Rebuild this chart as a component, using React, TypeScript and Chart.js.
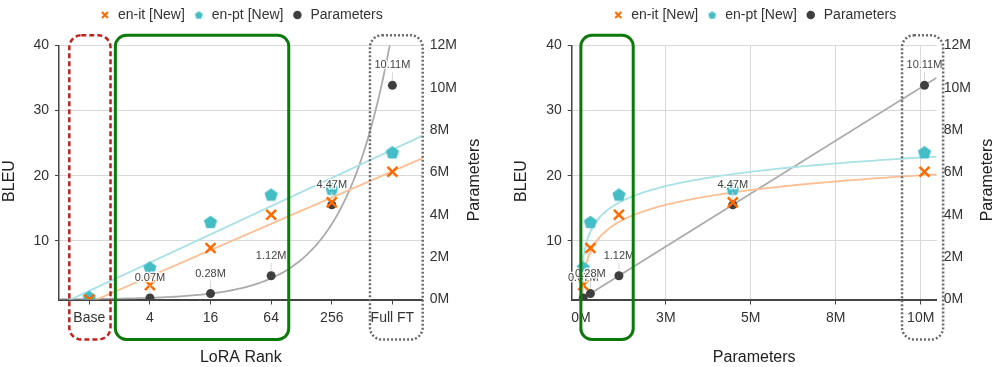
import React, { useEffect, useRef } from "react";
import { Chart, registerables } from "chart.js";
Chart.register(...registerables);

// ---------------- data ----------------
const rankLabels = ["Base", "4", "16", "64", "256", "Full FT"];
const enItBleu = [1.0, 3.2, 8.9, 14.0, 15.9, 20.6];
const enPtBleu = [1.4, 5.9, 12.9, 17.1, 18.0, 23.6];
const paramsM: (number | null)[] = [null, 0.07, 0.28, 1.12, 4.47, 10.11];
const paramTexts = ["", "0.07M", "0.28M", "1.12M", "4.47M", "10.11M"];
const bleuTicks = [10, 20, 30, 40];
const paramTicks = [0, 2, 4, 6, 8, 10, 12];
const paramAxisTicks = [0, 2.5, 5, 7.5, 10];

// ---------------- styles ----------------
const FONT = "'Liberation Sans', Arial, Helvetica, sans-serif";
const ORANGE = "#ff6a00";
const TEAL = "#45bdc7";
const DARK = "#3f3f3f";
const ORANGE_LINE = "#ffbf94";
const TEAL_LINE = "#a8e1e6";
const GRAY_LINE = "#ababab";
const TXT = "#333";

function pentagon(r: number, color: string) {
  const c = document.createElement("canvas");
  const s = Math.ceil(2 * r + 2);
  c.width = s;
  c.height = s;
  const ctx = c.getContext("2d")!;
  ctx.fillStyle = color;
  ctx.beginPath();
  for (let k = 0; k < 5; k++) {
    const ang = -Math.PI / 2 + (k * 2 * Math.PI) / 5;
    const px = s / 2 + r * Math.cos(ang);
    const py = s / 2 + r * Math.sin(ang) + r * 0.095;
    if (k) ctx.lineTo(px, py);
    else ctx.moveTo(px, py);
  }
  ctx.closePath();
  ctx.fill();
  return c;
}

function linFit(xs: number[], ys: number[]) {
  const n = xs.length;
  const mx = xs.reduce((a, b) => a + b, 0) / n;
  const my = ys.reduce((a, b) => a + b, 0) / n;
  let sxy = 0,
    sxx = 0;
  for (let i = 0; i < n; i++) {
    sxy += (xs[i] - mx) * (ys[i] - my);
    sxx += (xs[i] - mx) * (xs[i] - mx);
  }
  const b = sxy / sxx;
  return { a: my - b * mx, b };
}

type Box = { x0: number; x1: number; color: string; dash: number[]; width: number; radius: number };
type Titles = { left: [number, number]; right: [number, number]; bottom: string; leftText: string; rightText: string };

function makePlugins(boxes: Box[], titles: Titles) {
  const legendPad = {
    id: "legendPad",
    beforeLayout(chart: any) {
      const lg = chart.legend;
      if (lg && !lg._padPatched) {
        const orig = lg.fit;
        lg.fit = function () {
          orig.call(this);
          this.height += 13.3;
        };
        lg._padPatched = true;
      }
    },
  };
  const labelPlugin = {
    id: "paramLabels",
    afterDatasetsDraw(chart: any) {
      const ctx = chart.ctx;
      chart.data.datasets.forEach((ds: any, di: number) => {
        if (ds.label !== "Parameters") return;
        const meta = chart.getDatasetMeta(di);
        meta.data.forEach((el: any, j: number) => {
          const t = ds.data[j].t;
          if (!t) return;
          const x = el.x,
            y = el.y;
          ctx.save();
          ctx.strokeStyle = "#d6d6d6";
          ctx.lineWidth = 1;
          ctx.beginPath();
          ctx.moveTo(x, y - 13);
          ctx.lineTo(x, y - 5);
          ctx.stroke();
          ctx.font = `11px ${FONT}`;
          ctx.textAlign = "center";
          ctx.textBaseline = "middle";
          ctx.lineWidth = 3;
          ctx.strokeStyle = "rgba(255,255,255,0.85)";
          ctx.lineJoin = "round";
          ctx.strokeText(t, x, y - 20);
          ctx.fillStyle = "#444";
          ctx.fillText(t, x, y - 20);
          ctx.restore();
        });
      });
    },
  };
  const boxPlugin = {
    id: "boxes",
    afterDraw(chart: any) {
      const ctx = chart.ctx;
      const xs = chart.scales.x;
      const area = chart.chartArea;
      const top = area.top - 10;
      const bottom = area.bottom + 40;
      boxes.forEach((b) => {
        const x0 = xs.getPixelForValue(b.x0);
        const x1 = xs.getPixelForValue(b.x1);
        ctx.save();
        ctx.strokeStyle = b.color;
        ctx.lineWidth = b.width;
        ctx.setLineDash(b.dash);
        ctx.beginPath();
        (ctx as any).roundRect(x0, top, x1 - x0, bottom - top, b.radius);
        ctx.stroke();
        ctx.restore();
      });
      // axis titles
      ctx.save();
      ctx.fillStyle = "#222";
      ctx.font = `16px ${FONT}`;
      ctx.textAlign = "center";
      ctx.textBaseline = "middle";
      ctx.save();
      ctx.translate(titles.left[0], titles.left[1]);
      ctx.rotate(-Math.PI / 2);
      ctx.fillText(titles.leftText, 0, 0);
      ctx.restore();
      ctx.save();
      ctx.translate(titles.right[0], titles.right[1]);
      ctx.rotate(-Math.PI / 2);
      ctx.fillText(titles.rightText, 0, 0);
      ctx.restore();
      ctx.fillText(titles.bottom, (area.left + area.right) / 2, 358);
      ctx.restore();
    },
  };
  return [legendPad, labelPlugin, boxPlugin];
}

function legendOptions(smallPent: HTMLCanvasElement) {
  return {
    position: "top" as const,
    fullSize: false,
    labels: {
      usePointStyle: true,
      boxWidth: 12,
      boxHeight: 6,
      padding: 8,
      color: TXT,
      font: { size: 14, family: FONT },
      filter: (item: any) => !String(item.text).startsWith("_"),
      generateLabels: (chart: any) => {
        const items = (Chart.defaults as any).plugins.legend.labels.generateLabels(chart);
        return items.map((it: any) => {
          if (it.text === "en-pt [New]") it.pointStyle = smallPent;
          if (it.text === "en-it [New]") it.lineWidth = 2;
          if (it.text === "Parameters") it.lineWidth = 0;
          return it;
        });
      },
    },
  };
}

function markerDatasets(xOf: (i: number) => number | null, idx: number[]) {
  const bigPent = pentagon(7, TEAL);
  return [
    {
      label: "en-it [New]",
      data: idx.map((i) => ({ x: xOf(i), y: enItBleu[i] })),
      pointStyle: "crossRot",
      radius: 7,
      borderColor: ORANGE,
      backgroundColor: ORANGE,
      borderWidth: 2.5,
      yAxisID: "y",
      order: 1,
    },
    {
      label: "en-pt [New]",
      data: idx.map((i) => ({ x: xOf(i), y: enPtBleu[i] })),
      pointStyle: bigPent,
      radius: 7,
      borderColor: TEAL,
      backgroundColor: TEAL,
      yAxisID: "y",
      order: 2,
    },
    {
      label: "Parameters",
      data: idx
        .filter((i) => paramsM[i] !== null)
        .map((i) => ({ x: xOf(i), y: paramsM[i], t: paramTexts[i] })),
      pointStyle: "circle",
      radius: 4.5,
      borderWidth: 0,
      borderColor: DARK,
      backgroundColor: DARK,
      yAxisID: "y1",
      order: 3,
    },
  ];
}

function trendDs(label: string, data: { x: number; y: number }[], color: string, axis: string) {
  return {
    label,
    data,
    showLine: true,
    pointRadius: 0,
    borderColor: color,
    backgroundColor: color,
    borderWidth: 1.8,
    yAxisID: axis,
    order: 10,
    clip: 0,
    tension: 0,
  };
}

const commonY = (width: number) => ({
  type: "linear" as const,
  position: "left" as const,
  min: 1,
  max: 40,
  afterBuildTicks: (s: any) => {
    s.ticks = bleuTicks.map((v) => ({ value: v }));
  },
  afterFit: (s: any) => {
    s.width = width;
  },
  ticks: { color: TXT, font: { size: 14, family: FONT }, padding: 6 },
  grid: { color: "#d9d9d9", tickColor: "#444", tickLength: 4, lineWidth: 1 },
  border: { color: "#444", width: 1.5 },
});

const commonY1 = (width: number) => ({
  type: "linear" as const,
  position: "right" as const,
  min: 0,
  max: 12,
  afterBuildTicks: (s: any) => {
    s.ticks = paramTicks.map((v) => ({ value: v }));
  },
  afterFit: (s: any) => {
    s.width = width;
  },
  ticks: { color: TXT, font: { size: 14, family: FONT }, padding: 7, callback: (v: any) => `${v}M` },
  grid: { drawOnChartArea: false, drawTicks: false },
  border: { display: false },
});

function buildLeft(canvas: HTMLCanvasElement) {
  const idx = rankLabels.map((_, i) => i);
  const xMin = -0.5,
    xMax = rankLabels.length - 0.5;
  const fIt = linFit(idx, enItBleu);
  const fPt = linFit(idx, enPtBleu);
  const pIdx = idx.filter((i) => paramsM[i] !== null);
  const fP = linFit(pIdx, pIdx.map((i) => Math.log(paramsM[i] as number)));
  const expPts: { x: number; y: number }[] = [];
  for (let k = 0; k <= 120; k++) {
    const x = xMin + ((xMax - xMin) * k) / 120;
    expPts.push({ x, y: Math.exp(fP.a + fP.b * x) });
  }
  const smallPent = pentagon(4.2, TEAL);
  return new Chart(canvas, {
    type: "scatter",
    data: {
      datasets: [
        ...markerDatasets((i) => i, idx),
        trendDs("_it", [xMin, xMax].map((x) => ({ x, y: fIt.a + fIt.b * x })), ORANGE_LINE, "y"),
        trendDs("_pt", [xMin, xMax].map((x) => ({ x, y: fPt.a + fPt.b * x })), TEAL_LINE, "y"),
        trendDs("_p", expPts, GRAY_LINE, "y1"),
      ] as any,
    },
    options: {
      animation: false,
      responsive: false,
      events: [],
      layout: { padding: { top: 0, left: 0, right: 0, bottom: 0 } },
      plugins: { legend: legendOptions(smallPent) as any, tooltip: { enabled: false } },
      scales: {
        x: {
          type: "linear",
          min: xMin,
          max: xMax,
          afterBuildTicks: (s: any) => {
            s.ticks = idx.map((v) => ({ value: v }));
          },
          afterFit: (s: any) => {
            s.height = 67.5;
          },
          ticks: {
            color: TXT,
            font: { size: 14, family: FONT },
            padding: 5,
            callback: (v: any) => rankLabels[v],
          },
          grid: { drawOnChartArea: false, tickColor: "#444", tickLength: 5 },
          border: { color: "#444", width: 2 },
        },
        y: commonY(59),
        y1: commonY1(75.3),
      } as any,
    },
    plugins: makePlugins(
      [
        { x0: -0.33, x1: 0.35, color: "#c0231b", dash: [5, 3], width: 2.5, radius: 12 },
        { x0: 0.43, x1: 3.29, color: "#0b7a0b", dash: [], width: 3, radius: 11 },
        { x0: 4.63, x1: 5.5, color: "#6b6b6b", dash: [2, 2], width: 2.5, radius: 12 },
      ],
      { left: [10, 181], right: [475, 180], bottom: "LoRA Rank", leftText: "BLEU", rightText: "Parameters" }
    ) as any,
  });
}

function buildRight(canvas: HTMLCanvasElement) {
  const idx = rankLabels.map((_, i) => i).filter((i) => paramsM[i] !== null);
  const xs = idx.map((i) => paramsM[i] as number);
  const xMin = -0.27,
    xMax = 10.47;
  const lx = xs.map((v) => Math.log(v));
  const fIt = linFit(lx, idx.map((i) => enItBleu[i]));
  const fPt = linFit(lx, idx.map((i) => enPtBleu[i]));
  const fP = linFit(xs, xs);
  const logX: number[] = [];
  for (let k = 0; k <= 200; k++) logX.push(0.003 * Math.pow(xMax / 0.003, k / 200));
  const smallPent = pentagon(4.2, TEAL);
  return new Chart(canvas, {
    type: "scatter",
    data: {
      datasets: [
        ...markerDatasets((i) => paramsM[i], idx),
        trendDs("_it", logX.map((x) => ({ x, y: fIt.a + fIt.b * Math.log(x) })), ORANGE_LINE, "y"),
        trendDs("_pt", logX.map((x) => ({ x, y: fPt.a + fPt.b * Math.log(x) })), TEAL_LINE, "y"),
        trendDs("_p", [xMin, xMax].map((x) => ({ x, y: fP.a + fP.b * x })), GRAY_LINE, "y1"),
      ] as any,
    },
    options: {
      animation: false,
      responsive: false,
      events: [],
      layout: { padding: { top: 0, left: 0, right: 0, bottom: 0 } },
      plugins: { legend: legendOptions(smallPent) as any, tooltip: { enabled: false } },
      scales: {
        x: {
          type: "linear",
          min: xMin,
          max: xMax,
          afterBuildTicks: (s: any) => {
            s.ticks = paramAxisTicks.map((v) => ({ value: v }));
          },
          afterFit: (s: any) => {
            s.height = 67.5;
          },
          ticks: {
            color: TXT,
            font: { size: 14, family: FONT },
            padding: 5,
            callback: (v: any) => `${Math.round(v)}M`,
          },
          grid: { color: "#d9d9d9", tickColor: "#444", tickLength: 5 },
          border: { color: "#444", width: 2 },
        },
        y: commonY(73.7),
        y1: commonY1(60.3),
      } as any,
    },
    plugins: makePlugins(
      [
        { x0: 0, x1: 1.54, color: "#0b7a0b", dash: [], width: 3, radius: 11 },
        { x0: 9.45, x1: 10.66, color: "#6b6b6b", dash: [2, 2], width: 2.5, radius: 12 },
      ],
      { left: [23.7, 181], right: [490, 180], bottom: "Parameters", leftText: "BLEU", rightText: "Parameters" }
    ) as any,
  });
}

export default function App() {
  const leftRef = useRef<HTMLCanvasElement>(null);
  const rightRef = useRef<HTMLCanvasElement>(null);
  useEffect(() => {
    Chart.defaults.font.family = FONT;
    const a = buildLeft(leftRef.current!);
    const b = buildRight(rightRef.current!);
    return () => {
      a.destroy();
      b.destroy();
    };
  }, []);
  return (
    <div style={{ position: "fixed", left: 0, top: 0, width: 997, height: 367, background: "#fff" }}>
      <canvas ref={leftRef} width={498} height={367} style={{ position: "absolute", left: 0, top: 0, width: 498, height: 367 }} />
      <canvas ref={rightRef} width={499} height={367} style={{ position: "absolute", left: 498, top: 0, width: 499, height: 367 }} />
    </div>
  );
}
